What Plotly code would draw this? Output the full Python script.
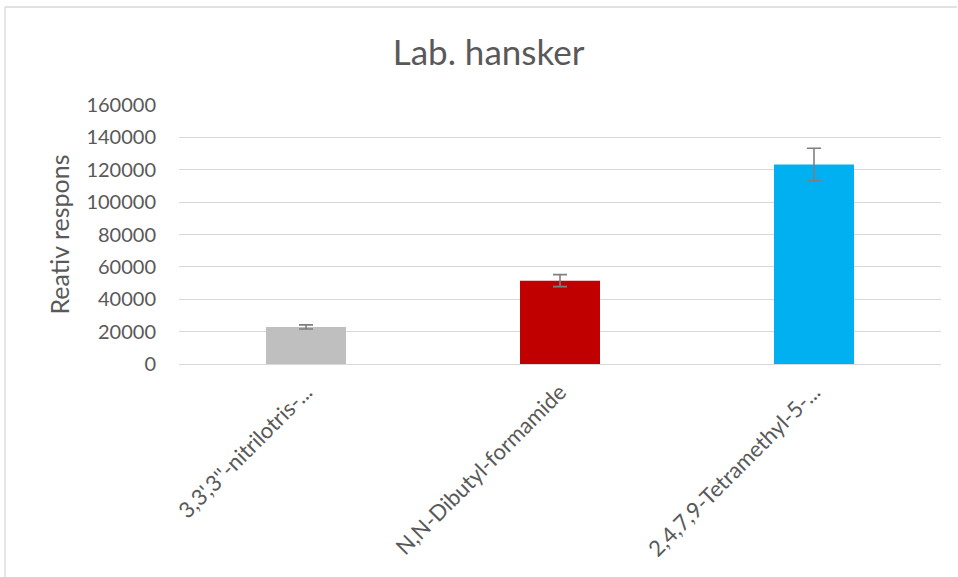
import plotly.graph_objects as go

# Compounds, mean relative response and standard deviation
categories = ["3,3',3''-nitrilotris-...", "N,N-Dibutyl-formamide", "2,4,7,9-Tetramethyl-5-..."]
responses = [22900, 51500, 123300]
errors = [1300, 3700, 10000]
bar_colors = ["#BFBFBF", "#C00000", "#00B0F0"]
y_ticks = [0, 20000, 40000, 60000, 80000, 100000, 120000, 140000, 160000]

TEXT = "#595959"
FONT = "Lato, 'Open Sans', sans-serif"

fig = go.Figure(
    go.Bar(
        x=categories,
        y=responses,
        marker=dict(color=bar_colors, line=dict(width=0)),
        width=0.315,
        error_y=dict(type="data", array=errors, visible=True,
                     color="#7F7F7F", thickness=1.6, width=7),
    )
)

fig.update_layout(
    width=958,
    height=577,
    margin=dict(l=179, r=17, t=105, b=213),
    paper_bgcolor="white",
    plot_bgcolor="white",
    showlegend=False,
    title=dict(text="Lab. hansker", x=0.51, xanchor="center",
               y=1 - 53 / 577, yanchor="middle", yref="container",
               font=dict(family=FONT, size=35, color=TEXT)),
    font=dict(family=FONT, color=TEXT),
    xaxis=dict(tickangle=-45, tickfont=dict(size=22, color=TEXT),
               showline=False, showgrid=False, ticks="",
               ticklabelstandoff=10),
    yaxis=dict(range=[0, 160000], tickvals=y_ticks,
               ticktext=[str(v) for v in y_ticks],
               tickfont=dict(size=20, color=TEXT),
               showgrid=True, gridcolor="#D9D9D9", gridwidth=1.3,
               zeroline=True, zerolinecolor="#D9D9D9", zerolinewidth=1.3,
               ticks="", ticklen=0, showline=False,
               ticklabelstandoff=22,
               title=dict(text="Reativ respons", standoff=9,
                          font=dict(size=25, color=TEXT))),
    shapes=[
        # chart-area frame (left and top edges visible)
        dict(type="line", xref="paper", yref="paper",
             x0=(5 - 179) / 762, x1=(957 - 179) / 762,
             y0=(364 - 7) / 259, y1=(364 - 7) / 259,
             line=dict(color="#D9D9D9", width=1.3)),
        dict(type="line", xref="paper", yref="paper",
             x0=(5 - 179) / 762, x1=(5 - 179) / 762,
             y0=(364 - 7) / 259, y1=-1,
             line=dict(color="#D9D9D9", width=1.3)),
    ],
)

fig.write_html("out.html")
